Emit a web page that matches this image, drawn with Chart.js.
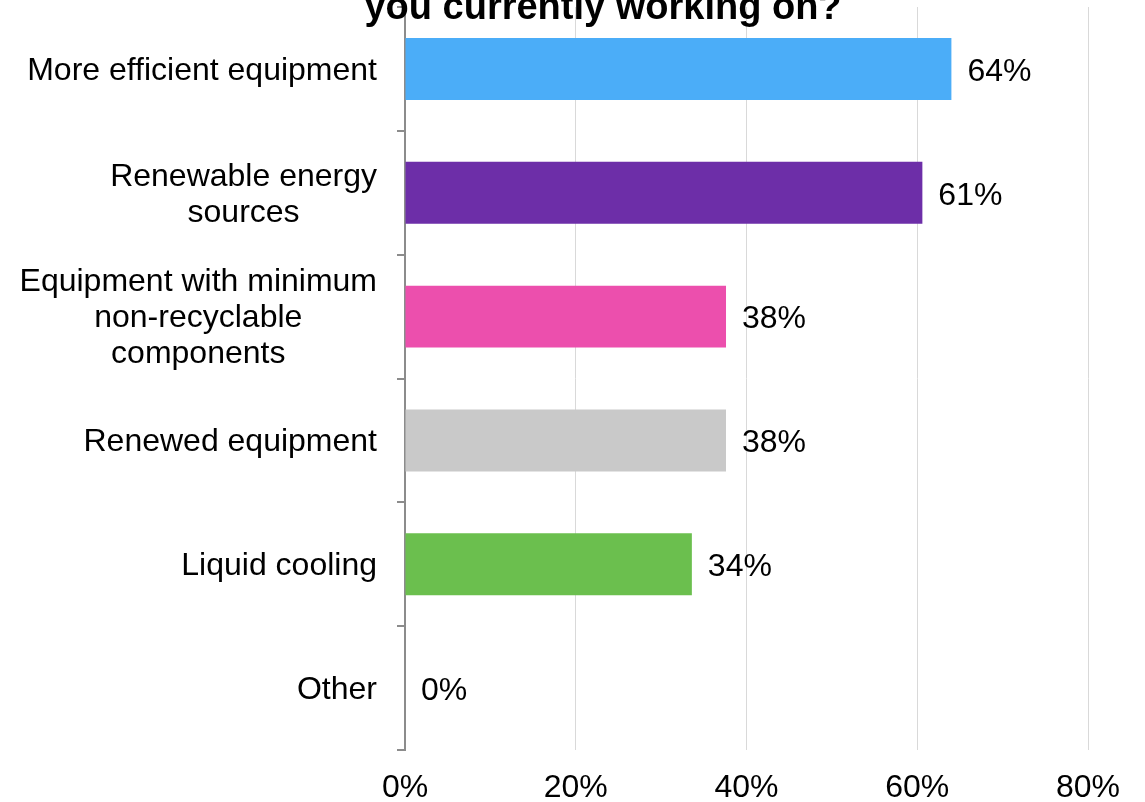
<!DOCTYPE html>
<html>
<head>
<meta charset="utf-8">
<script src="https://cdn.jsdelivr.net/npm/chart.js@4"></script>
<style>
    html, body { margin: 0; padding: 0; background: #fff; }
    #wrap { width: 1145px; height: 802px; overflow: hidden; }
</style>
</head>
<body>
<div id="wrap"><canvas id="initiatives-chart" width="1145" height="826"></canvas></div>
<script>
const categories = [
    ['More efficient equipment'],
    ['Renewable energy', 'sources'],
    ['Equipment with minimum', 'non-recyclable', 'components'],
    ['Renewed equipment'],
    ['Liquid cooling'],
    ['Other']
];
const shares = [64, 60.6, 37.6, 37.6, 33.6, 0];
const xTicks = [0, 20, 40, 60, 80];
const titleText = 'you currently working on?';

const barColors = ['#4BADF8', '#6D2EA8', '#EC4FAD', '#C9C9C9', '#6BBF4E', '#A0A0A0'];
const fontFamily = '"Liberation Sans", Arial, sans-serif';

// category labels: block right-aligned to the axis, lines centred inside the block
const categoryLabels = {
    id: 'categoryLabels',
    afterDraw(chart) {
        const ctx = chart.ctx;
        const yScale = chart.scales.y;
        ctx.save();
        ctx.font = '32px ' + fontFamily;
        ctx.fillStyle = '#000';
        ctx.textAlign = 'center';
        ctx.textBaseline = 'middle';
        categories.forEach(function (lines, i) {
            const widest = Math.max(...lines.map(l => ctx.measureText(l).width));
            const cx = 377 - widest / 2;
            const cy = yScale.getPixelForValue(i) + 2;
            lines.forEach(function (line, k) {
                ctx.fillText(line, cx, cy - (lines.length - 1) * 18 + k * 36);
            });
        });
        ctx.restore();
    }
};

const valueLabels = {
    id: 'valueLabels',
    afterDatasetsDraw(chart) {
        const ctx = chart.ctx;
        const meta = chart.getDatasetMeta(0);
        ctx.save();
        ctx.font = '32px ' + fontFamily;
        ctx.fillStyle = '#000';
        ctx.textAlign = 'left';
        ctx.textBaseline = 'middle';
        meta.data.forEach(function (bar, i) {
            ctx.fillText(Math.round(shares[i]) + '%', bar.x + 16, bar.y + 3);
        });
        ctx.restore();
    }
};

// the title is cut off by the top edge in the original
const clippedTitle = {
    id: 'clippedTitle',
    afterDraw(chart) {
        const ctx = chart.ctx;
        ctx.save();
        ctx.font = 'bold 38px ' + fontFamily;
        ctx.fillStyle = '#000';
        ctx.textAlign = 'center';
        ctx.textBaseline = 'alphabetic';
        ctx.fillText(titleText, 603, 19);
        ctx.restore();
    }
};

new Chart(document.getElementById('initiatives-chart'), {
    type: 'bar',
    data: {
        labels: categories.map(c => c.join(' ')),
        datasets: [{
            data: shares,
            backgroundColor: barColors,
            barPercentage: 0.5,
            categoryPercentage: 1
        }]
    },
    options: {
        indexAxis: 'y',
        responsive: false,
        animation: false,
        layout: { padding: { left: 397, right: 57, top: 7, bottom: 0 } },
        plugins: {
            legend: { display: false },
            title: { display: false },
            tooltip: { enabled: false }
        },
        scales: {
            x: {
                min: 0,
                max: 80,
                afterBuildTicks: function (scale) {
                    scale.ticks = xTicks.map(v => ({ value: v }));
                },
                grid: { color: '#D9D9D9', lineWidth: 1, drawTicks: false },
                border: { display: false },
                ticks: {
                    padding: 22,
                    color: '#000',
                    font: { family: fontFamily, size: 32, lineHeight: 1 },
                    callback: v => v + '%'
                }
            },
            y: {
                grid: {
                    drawOnChartArea: false,
                    drawTicks: true,
                    tickLength: 8,
                    color: '#8C8C8C',
                    lineWidth: 2
                },
                border: { display: true, color: '#8C8C8C', width: 2 },
                ticks: { display: false }
            }
        }
    },
    plugins: [categoryLabels, valueLabels, clippedTitle]
});
</script>
</body>
</html>
